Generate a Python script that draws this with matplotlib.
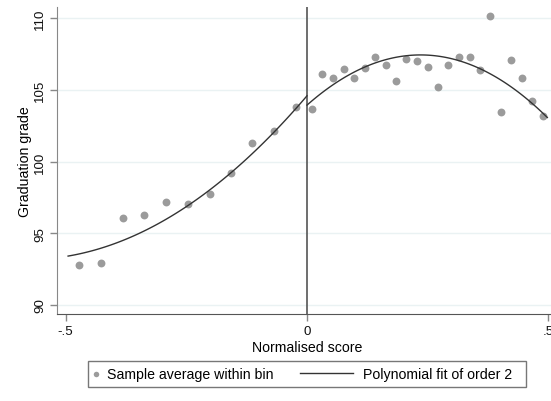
import numpy as np
import matplotlib
matplotlib.use('Agg')
import matplotlib.pyplot as plt
from matplotlib.legend_handler import HandlerBase
from matplotlib.lines import Line2D

plt.rcParams['font.family'] = ['Liberation Sans', 'DejaVu Sans']

# Bin averages
x_left = [-0.472, -0.427, -0.382, -0.337, -0.292, -0.247, -0.202, -0.158, -0.113, -0.068, -0.023]
y_left = [92.81, 92.90, 96.04, 96.27, 97.15, 97.06, 97.71, 99.17, 101.30, 102.10, 103.77]

x_right = [0.010, 0.032, 0.054, 0.076, 0.098, 0.120, 0.141, 0.163, 0.185, 0.206, 0.228, 0.250,
           0.271, 0.293, 0.315, 0.337, 0.358, 0.380, 0.402, 0.423, 0.445, 0.467, 0.489]
y_right = [103.67, 106.11, 105.81, 106.46, 105.81, 106.55, 107.25, 106.73, 105.62, 107.15, 106.99, 106.62,
           105.16, 106.73, 107.25, 107.29, 106.36, 110.13, 103.46, 107.06, 105.81, 104.23, 103.14]

# order-2 polynomial fits (coefficients), and their x ranges
fit_left = [34.0, 39.4, 104.58]
fit_right = [-63.2, 29.74, 103.93]
range_left = (-0.495, 0.0)
range_right = (0.0, 0.498)

yticks = [90, 95, 100, 105, 110]
xticks = [-0.5, 0, 0.5]
xticklabels = ['-.5', '0', '.5']

fig = plt.figure(figsize=(5.51, 4.02), dpi=100)
ax = fig.add_axes([57/551, 1 - 315/402, 500/551, 307/402])

gl = np.linspace(*range_left, 100)
gr = np.linspace(*range_right, 100)

ax.scatter(x_left + x_right, y_left + y_right, s=32, color='#9b9b9b', linewidths=0,
           zorder=3, label='Sample average within bin')
ax.plot(gl, np.polyval(fit_left, gl), color='#333333', lw=1.0, zorder=4,
        label='Polynomial fit of order 2')
ax.plot(gr, np.polyval(fit_right, gr), color='#333333', lw=1.0, zorder=4)
ax.axvline(0, color='#555555', lw=1.2, zorder=2)

ax.set_xlim(-0.518, 0.518)
ax.set_ylim(89.37, 110.77)
ax.set_xticks(xticks)
ax.set_xticklabels(xticklabels)
ax.set_yticks(yticks)
plt.setp(ax.get_yticklabels(), rotation=90, va='center')

ax.grid(axis='y', color='#eaf2f3', lw=1.0)
ax.set_axisbelow(True)
for s in ['top', 'right']:
    ax.spines[s].set_visible(False)
ax.spines['left'].set_color('#888888')
ax.spines['bottom'].set_color('#555555')
ax.tick_params(axis='both', length=5, width=1, color='#888888', labelsize=9.6,
               labelcolor='#111111', pad=3)

ax.set_ylabel('Graduation grade', fontsize=10.2)
ax.yaxis.set_label_coords(-0.05, 0.5)
ax.set_xlabel('Normalised score', fontsize=10.2, labelpad=2)


class LongLine(HandlerBase):
    # Stata style key: long line ending just before the text
    def create_artists(self, legend, orig_handle, xdescent, ydescent, width, height, fontsize, trans):
        y = height / 2 - ydescent
        ln = Line2D([width - 3.85 * fontsize, width - 0.1 * fontsize], [y, y],
                    color=orig_handle.get_color(), lw=orig_handle.get_linewidth())
        ln.set_transform(trans)
        return [ln]


h, l = ax.get_legend_handles_labels()
leg = fig.legend(h, [l[0], l[1] + '  '], loc='center', bbox_to_anchor=(307/551, 1 - 375/402),
                 ncol=2, fontsize=10.2, frameon=True, fancybox=False, borderpad=0.4,
                 handlelength=0.32, handletextpad=0.6, columnspacing=5.4, markerscale=0.7,
                 handler_map={h[1]: LongLine()})
leg.get_frame().set_edgecolor('#555555')
leg.get_frame().set_linewidth(1.0)

fig.savefig('out.png', dpi=100)
